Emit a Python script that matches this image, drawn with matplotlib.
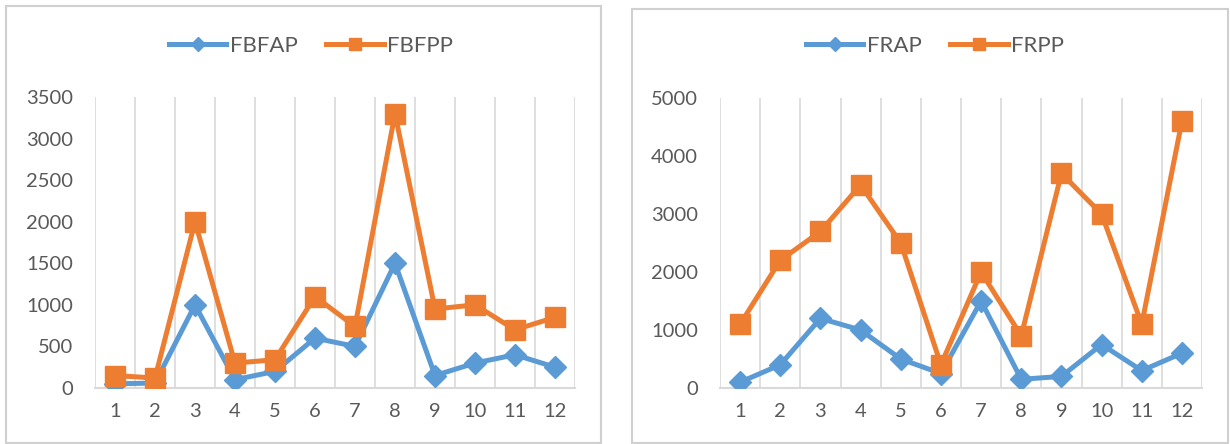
import matplotlib.pyplot as plt
from matplotlib.lines import Line2D
from matplotlib.patches import Rectangle

months = list(range(1, 13))
month_labels = [str(m) for m in months]

fbfap = [50, 60, 1000, 100, 200, 600, 500, 1500, 150, 300, 400, 250]
fbfpp = [150, 120, 2000, 300, 340, 1100, 740, 3300, 950, 1000, 700, 850]
left_ticks = [0, 500, 1000, 1500, 2000, 2500, 3000, 3500]

frap = [100, 400, 1200, 1000, 500, 250, 1500, 150, 200, 750, 300, 600]
frpp = [1100, 2200, 2700, 3500, 2500, 400, 2000, 900, 3700, 3000, 1100, 4600]
right_ticks = [0, 1000, 2000, 3000, 4000, 5000]

BLUE = '#5B9BD5'
ORANGE = '#ED7D31'
GRID = '#D9D9D9'
TEXT = '#595959'

plt.rcParams['font.family'] = ['Lato', 'DejaVu Sans']

W, H = 1230, 444
fig = plt.figure(figsize=(W / 100, H / 100), dpi=100)


def px_box(x0, y0, x1, y1):
    # pixel box (top-left origin) -> figure fraction rect
    return [x0 / W, (H - y1) / H, (x1 - x0) / W, (y1 - y0) / H]


def panel_border(x0, y0, x1, y1):
    fig.patches.append(Rectangle((x0 / W, (H - y1) / H), (x1 - x0) / W, (y1 - y0) / H,
                                 transform=fig.transFigure, fill=False,
                                 edgecolor='#D0D0D0', linewidth=1.5))


def draw_chart(box, a, b, names, ticks, legend_x):
    ax = fig.add_axes(px_box(*box))
    ax.plot(months, a, color=BLUE, linewidth=3.6, marker='D', markersize=11,
            solid_joinstyle='round', zorder=3)
    ax.plot(months, b, color=ORANGE, linewidth=3.6, marker='s', markersize=14,
            solid_joinstyle='round', zorder=4)
    ax.set_xlim(0.5, 12.5)
    ax.set_ylim(0, ticks[-1])
    ax.set_yticks(ticks)
    ax.set_xticks(months)
    ax.set_xticklabels(month_labels)
    for x in [m + 0.5 for m in range(0, 13)]:
        ax.axvline(x, color=GRID, linewidth=1.2, zorder=1)
    for side in ['top', 'right', 'left']:
        ax.spines[side].set_visible(False)
    ax.spines['bottom'].set_color(GRID)
    ax.spines['bottom'].set_linewidth(1.5)
    ax.tick_params(length=0, labelsize=14.5, labelcolor=TEXT)
    ax.tick_params(axis='y', pad=16)
    ax.tick_params(axis='x', pad=11)
    handles = [
        Line2D([], [], color=BLUE, linewidth=3.6, marker='D', markersize=7),
        Line2D([], [], color=ORANGE, linewidth=3.6, marker='s', markersize=9),
    ]
    fig.legend(handles, names, loc='center', ncol=2, frameon=False,
               bbox_to_anchor=(legend_x / W, (H - 46) / H),
               fontsize=16, labelcolor=TEXT, handlelength=2.6,
               handletextpad=0.15, columnspacing=1.3)
    return ax


panel_border(6, 6, 601, 443)
panel_border(632, 9, 1228, 443)

draw_chart((95, 97, 575, 388), fbfap, fbfpp, ['FBFAP', 'FBFPP'], left_ticks, 311)
draw_chart((720, 98, 1202, 388), frap, frpp, ['FRAP', 'FRPP'], right_ticks, 935)

fig.savefig('out.png', dpi=100)
plt.close(fig)
